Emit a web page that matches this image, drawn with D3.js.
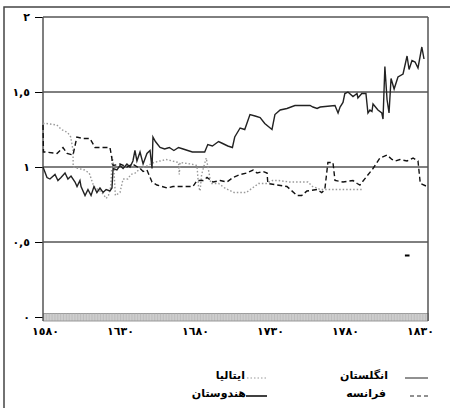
<!DOCTYPE html>
<html><head><meta charset="utf-8">
<script src="https://cdn.jsdelivr.net/npm/d3@7"></script>
<style>
html,body{margin:0;padding:0;background:#fff;}
svg{display:block;}
text{font-family:"DejaVu Sans",sans-serif;}
</style></head>
<body>
<script>
const xTickLabels = ["١٥٨٠","١٦٣٠","١٦٨٠","١٧٣٠","١٧٨٠","١٨٣٠"];
const yTickValues = [0,0.5,1,1.5,2];
const yTickLabels = ["٠","٠,٥","١","١,٥","٢"];
const seriesNames = ["انگلستان","فرانسه","ایتالیا","هندوستان"];

const england = [[1580,1.0],[1582.6,0.93],[1584.5,0.92],[1587.8,0.95],[1589.7,0.91],[1591.7,0.93],[1594.3,0.96],[1596.2,0.92],[1598.2,0.94],[1600.8,0.90],[1602.1,0.87],[1604,0.91],[1604.7,0.87],[1607.3,0.81],[1609.2,0.85],[1611.2,0.81],[1613.1,0.87],[1615,0.83],[1617,0.86],[1619,0.83],[1621,0.85],[1623.5,0.84],[1624.8,0.86],[1625.5,0.99],[1628,0.98],[1630,1.01],[1632,0.99],[1634.5,1.02],[1636.5,1.0],[1638.4,1.04],[1639.7,1.11],[1641,1.04],[1643,1.10],[1645,1.02],[1647.5,1.09],[1649.5,1.11],[1650.8,0.99],[1651.4,1.2],[1653,1.17],[1656,1.13],[1659,1.12],[1662,1.13],[1665,1.11],[1668,1.13],[1671,1.12],[1674,1.11],[1677,1.10],[1680,1.10],[1683,1.10],[1685,1.10],[1687,1.15],[1690,1.14],[1694,1.17],[1696,1.16],[1700,1.14],[1703,1.13],[1704.5,1.2],[1708,1.26],[1711,1.25],[1714.4,1.35],[1717.7,1.34],[1721,1.33],[1724,1.29],[1728.7,1.25],[1730.6,1.35],[1734,1.38],[1738.4,1.39],[1743.6,1.41],[1753.4,1.41],[1755.3,1.40],[1758,1.39],[1760,1.40],[1769.6,1.41],[1771.6,1.36],[1772.9,1.40],[1774.8,1.43],[1776,1.49],[1778,1.50],[1781.3,1.47],[1783.9,1.49],[1784.5,1.46],[1787,1.49],[1789.7,1.49],[1791,1.36],[1792.3,1.38],[1793.6,1.37],[1794.3,1.42],[1797.5,1.38],[1800,1.36],[1800.8,1.32],[1802,1.67],[1803.4,1.45],[1804.7,1.36],[1806,1.59],[1808,1.52],[1810.5,1.60],[1813.8,1.62],[1816.4,1.74],[1817.7,1.65],[1819.6,1.71],[1821.6,1.70],[1823.5,1.66],[1826,1.80],[1827.4,1.72]];

const france = [[1580,1.28],[1580.3,1.10],[1581.3,1.10],[1589.1,1.09],[1593,1.13],[1595.6,1.09],[1599.5,1.08],[1602,1.20],[1606,1.19],[1610.5,1.19],[1613.8,1.13],[1623.5,1.13],[1625.5,1.01],[1630,1.02],[1634.5,1.00],[1638,1.02],[1643,0.99],[1645,0.97],[1647.5,0.98],[1650.8,0.90],[1654,0.88],[1660.5,0.86],[1664.4,0.87],[1673.5,0.87],[1677.4,0.87],[1680,0.91],[1684,0.91],[1686.5,0.93],[1690.4,0.90],[1695,0.91],[1699.5,0.90],[1703.4,0.93],[1708,0.95],[1712.5,0.96],[1716.4,0.98],[1719,0.96],[1722.9,0.97],[1725.5,0.96],[1726,0.89],[1732,0.88],[1738.4,0.87],[1745,0.81],[1748,0.81],[1751.4,0.84],[1758,0.85],[1761,0.83],[1763,0.85],[1765,1.03],[1768.3,1.03],[1769.6,0.91],[1774.8,0.90],[1781.3,0.91],[1784,0.89],[1785.8,0.88],[1790.4,0.94],[1794.3,0.99],[1798.8,1.06],[1803.4,1.08],[1806.6,1.05],[1808.6,1.04],[1811.8,1.05],[1816.4,1.04],[1820.3,1.06],[1823.5,1.04],[1825,0.89],[1829.4,0.87]];

const italy = [[1580,1.29],[1582,1.29],[1589,1.28],[1592,1.25],[1596,1.23],[1598,1.20],[1599.5,1.11],[1599.6,1.00],[1603,0.99],[1607,0.98],[1610,0.96],[1613,0.87],[1617,0.84],[1619,0.82],[1621,0.79],[1622.5,0.81],[1624,0.87],[1625,1.07],[1626,0.99],[1627,0.81],[1630,0.83],[1632,0.92],[1635,0.92],[1637,0.95],[1640,0.96],[1643,0.99],[1648,1.01],[1652,1.03],[1656,1.04],[1660,1.05],[1664,1.04],[1668,1.03],[1668.5,0.95],[1669,1.03],[1676,1.02],[1680,1.01],[1681,0.87],[1682,0.84],[1683,0.95],[1686,1.06],[1688,0.95],[1689,0.89],[1694,0.89],[1698,0.86],[1704,0.83],[1712,0.83],[1716,0.86],[1720,0.89],[1725,0.89],[1729,0.91],[1733,0.91],[1740,0.90],[1745,0.90],[1750,0.90],[1752,0.90],[1755,0.87],[1758,0.86],[1760,0.85],[1770,0.85],[1787,0.85]];

const india = [[1815,0.41],[1818,0.41]];

const W = 450, H = 408;
const m = {left:43, right:428, top:17, bottom:317};

const svg = d3.select("body").append("svg").attr("width",W).attr("height",H);

// outer frame
svg.append("path").attr("d",`M4,${H} V7 H${W}`).attr("fill","none")
  .attr("stroke","#444").attr("stroke-width",1.5);

const x = d3.scaleLinear().domain([1580,1830]).range([m.left,m.right]);
const y = d3.scaleLinear().domain([0,2]).range([m.bottom,m.top]);

// gray hatched band along the x axis (yearly minor ticks)
const years = d3.range(1580,1831,1);
svg.append("rect").attr("x",m.left).attr("y",313).attr("width",m.right-m.left).attr("height",8)
  .attr("fill","#dcdcdc");
const minor = svg.append("g").attr("transform",`translate(0,313)`)
  .call(d3.axisBottom(x).tickValues(years).tickSize(8).tickFormat(""));
minor.select(".domain").attr("stroke","#999");
minor.selectAll(".tick line").attr("stroke","#a8a8a8").attr("stroke-width",0.6);
svg.append("line").attr("x1",m.left).attr("x2",m.right).attr("y1",321).attr("y2",321)
  .attr("stroke","#999");

// horizontal gridlines
svg.append("g").selectAll("line").data(yTickValues.filter(v=>v>0)).join("line")
  .attr("x1",m.left).attr("x2",m.right).attr("y1",d=>y(d)).attr("y2",d=>y(d))
  .attr("stroke","#000").attr("stroke-width",1);

// y axis
const yAxis = svg.append("g").attr("transform",`translate(${m.left},0)`)
  .call(d3.axisLeft(y).tickValues(yTickValues).tickSize(8).tickPadding(5)
    .tickFormat((d,i)=>yTickLabels[i]));
yAxis.select(".domain").remove();
yAxis.selectAll(".tick line").attr("stroke","#000");
yAxis.selectAll("text").attr("font-size",11).attr("font-weight","bold").attr("fill","#000");

// left and right plot borders
svg.append("line").attr("x1",m.left).attr("x2",m.left).attr("y1",m.top).attr("y2",321)
  .attr("stroke","#555").attr("stroke-width",1.5);
svg.append("line").attr("x1",m.right).attr("x2",m.right).attr("y1",m.top).attr("y2",321)
  .attr("stroke","#555").attr("stroke-width",1.5);

// x labels
const xl = d3.scalePoint().domain(xTickLabels).range([45,420]);
const xAxis = svg.append("g").attr("transform",`translate(0,327)`)
  .call(d3.axisBottom(xl).tickSize(0).tickPadding(0));
xAxis.select(".domain").remove();
xAxis.selectAll("text").attr("font-size",11).attr("font-weight","bold").attr("fill","#000");

const line = d3.line().x(d=>x(d[0])).y(d=>y(d[1]));

svg.append("path").datum(italy).attr("d",line).attr("fill","none")
  .attr("stroke","#999").attr("stroke-width",1.4).attr("stroke-dasharray","1.5,2");
svg.append("path").datum(france).attr("d",line).attr("fill","none")
  .attr("stroke","#111").attr("stroke-width",1.4).attr("stroke-dasharray","5,3");
svg.append("path").datum(england).attr("d",line).attr("fill","none")
  .attr("stroke","#222").attr("stroke-width",1.4);
svg.append("path").datum(india).attr("d",line).attr("fill","none")
  .attr("stroke","#000").attr("stroke-width",2);

// legend
const legend = [
  {name:seriesNames[0], lx:[405,428], ty:379, tx:388, dash:null, w:1, c:"#222"},
  {name:seriesNames[1], lx:[410,428], ty:397, tx:386, dash:"4,3", w:1, c:"#222"},
  {name:seriesNames[2], lx:[247,268], ty:379, tx:245, dash:"1.5,2", w:1, c:"#999"},
  {name:seriesNames[3], lx:[246,267], ty:397, tx:246, dash:null, w:1.5, c:"#000"}
];
const lg = svg.append("g");
legend.forEach(d=>{
  lg.append("line").attr("x1",d.lx[0]).attr("x2",d.lx[1]).attr("y1",d.ty-1).attr("y2",d.ty-1)
    .attr("stroke",d.c).attr("stroke-width",d.w).attr("stroke-dasharray",d.dash);
  lg.append("text").attr("x",d.tx).attr("y",d.ty).attr("text-anchor","end")
    .attr("font-size",11).attr("font-weight","bold")
    .attr("fill","#000").text(d.name);
});
</script>
</body></html>
